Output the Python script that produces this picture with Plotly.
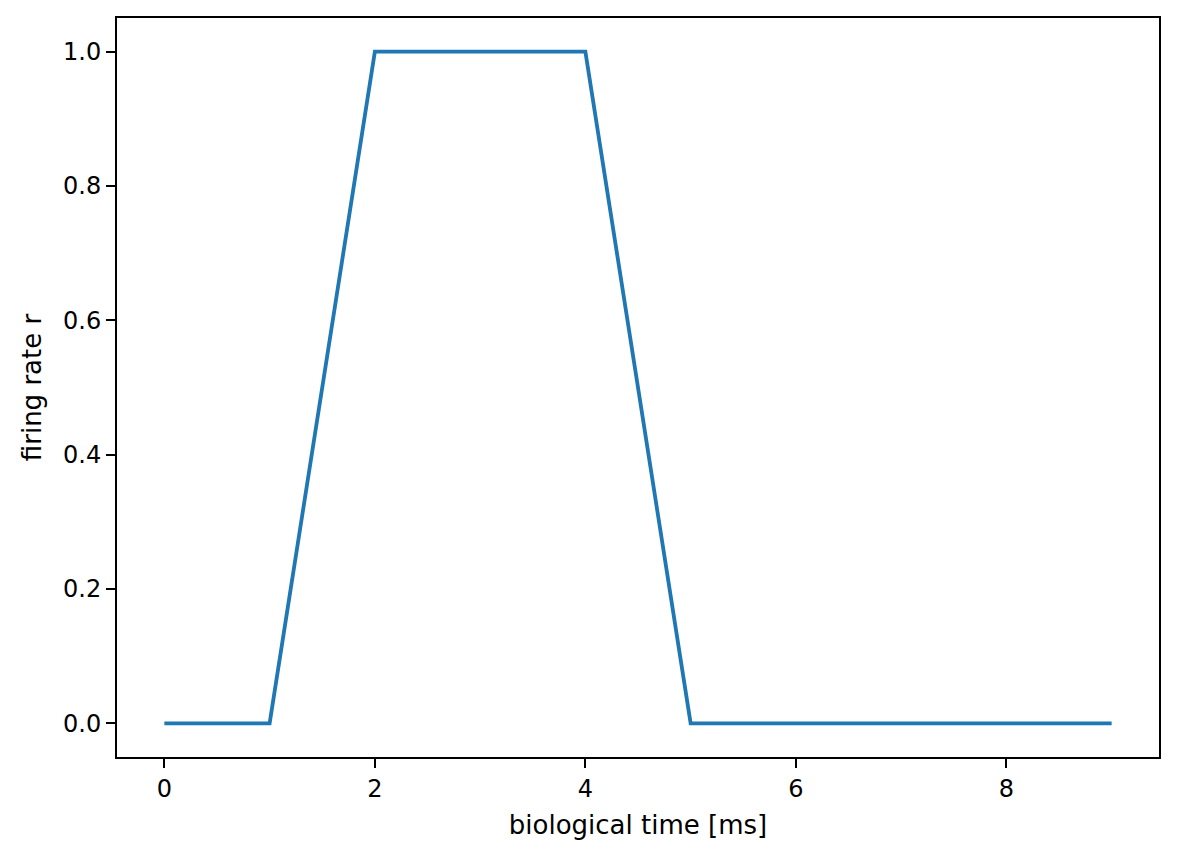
import plotly.graph_objects as go

t_ms = [0, 1, 2, 3, 4, 5, 6, 7, 8, 9]
rate = [0, 0, 1, 1, 1, 0, 0, 0, 0, 0]
x_ticks = [0, 2, 4, 6, 8]
y_ticks = [0.0, 0.2, 0.4, 0.6, 0.8, 1.0]

fig = go.Figure()
fig.add_trace(go.Scatter(x=t_ms, y=rate, mode="lines",
                         line=dict(color="#1f77b4", width=3.8)))

font = dict(family="DejaVu Sans", size=24, color="black")
title_font = dict(family="DejaVu Sans", size=26, color="black")
axis_common = dict(showline=True, linecolor="black", linewidth=2, mirror=True,
                   ticks="outside", ticklen=9, tickwidth=2, tickcolor="black",
                   showgrid=False, zeroline=False, tickfont=font,
                   title_font=title_font)

fig.update_layout(
    width=1161, height=842,
    margin=dict(l=109, r=10, t=10, b=93, autoexpand=False),
    plot_bgcolor="white", paper_bgcolor="white",
    showlegend=False,
    xaxis=dict(range=[-0.45, 9.45], tickvals=x_ticks, ticktext=[str(v) for v in x_ticks],
               title=dict(text="biological time [ms]", standoff=14), **axis_common),
    yaxis=dict(range=[-0.05, 1.05], tickvals=y_ticks, ticktext=[f"{v:.1f}" for v in y_ticks],
               title=dict(text="firing rate r", standoff=14), **axis_common),
)
fig.write_html("out.html")
